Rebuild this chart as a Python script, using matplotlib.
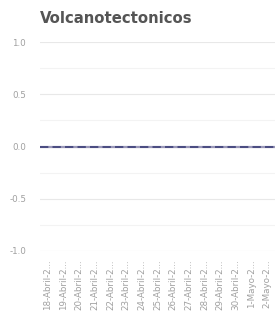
import numpy as np
import matplotlib.pyplot as plt
from matplotlib.transforms import ScaledTranslation

fechas = ['18-Abril-2020', '19-Abril-2020', '20-Abril-2020', '21-Abril-2020',
          '22-Abril-2020', '23-Abril-2020', '24-Abril-2020', '25-Abril-2020',
          '26-Abril-2020', '27-Abril-2020', '28-Abril-2020', '29-Abril-2020',
          '30-Abril-2020', '1-Mayo-2020', '2-Mayo-2020', '3-Mayo-2020']
eventos = [0, 0, 0, 0, 0, 0, 0, 0, 0, 0, 0, 0, 0, 0, 0, 0]
promedio = [0, 0, 0, 0, 0, 0, 0, 0, 0, 0, 0, 0, 0, 0, 0, 0]
yticks = [-1.0, -0.5, 0.0, 0.5, 1.0]

def recortar(s):
    d, m, a = s.split('-')
    return f'{d}-{m}-{a[0]}...'

fig = plt.figure(figsize=(2.75, 3.15), dpi=100)
ax = fig.add_axes([40/275, 1 - 251/315, 235/275, 209/315])

x = np.arange(len(fechas))
ax.plot(x, eventos, color='#9a98b8', lw=1.6, solid_capstyle='butt')
ax.plot(x, promedio, color='#3c3f78', lw=1.2, ls=(0, (5, 2.5)))

ax.set_xlim(0, len(fechas) - 1)
ax.set_ylim(-1.0, 1.0)
ax.set_yticks(yticks)
ax.set_yticklabels([f'{v:.1f}' for v in yticks])
ax.set_yticks(np.arange(-1.0, 1.01, 0.25), minor=True)
# la ultima fecha queda fuera del recorte
ax.set_xticks(x[:-1])
ax.set_xticklabels([recortar(f) for f in fechas[:-1]], rotation=90)

ax.grid(axis='y', which='major', color='#e8e8e8', lw=0.8)
ax.grid(axis='y', which='minor', color='#f3f3f3', lw=0.8)
ax.set_axisbelow(True)
for s in ax.spines.values():
    s.set_visible(False)
ax.tick_params(axis='both', which='both', length=0, labelsize=6.3, labelcolor='#a0a0a0')
ax.tick_params(axis='y', pad=10)
ax.tick_params(axis='x', pad=6)

desplazar = ScaledTranslation(8/100, 0, fig.dpi_scale_trans)
for lbl in ax.get_xticklabels():
    lbl.set_transform(lbl.get_transform() + desplazar)

fig.text(40/275, 1 - 23/315, 'Volcanotectonicos', fontsize=10.7, fontweight='bold',
         color='#555555', ha='left', va='baseline')

fig.savefig('out.png', dpi=100)
